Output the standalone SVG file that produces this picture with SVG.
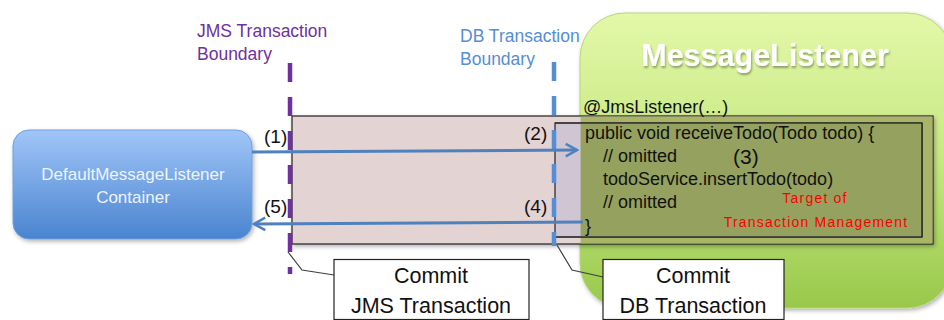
<svg xmlns="http://www.w3.org/2000/svg" width="944" height="320" viewBox="0 0 944 320">
<defs>
<style>
text{font-family:"Liberation Sans",Arial,sans-serif;}
.lbl{font-size:17.5px;}
.code{font-size:18px;fill:#111;}
.num{font-size:19px;fill:#111;}
.red{font-size:14px;fill:#ff0000;letter-spacing:1.2px;}
.cmt{font-size:21.5px;fill:#111;text-anchor:middle;}
.arrow{stroke:#4f81bd;stroke-width:3;fill:none;}
.lead{stroke:#404040;stroke-width:1.2;fill:none;}
.box{fill:#fff;stroke:#222;stroke-width:1.2;}
</style>
<linearGradient id="gGreen" x1="0" y1="0" x2="0" y2="1">
<stop offset="0" stop-color="#e3f8a8"/>
<stop offset="0.5" stop-color="#c6e882"/>
<stop offset="1" stop-color="#98c84a"/>
</linearGradient>
<linearGradient id="gBlue" x1="0" y1="0" x2="0" y2="1">
<stop offset="0" stop-color="#a0c6f8"/>
<stop offset="1" stop-color="#4a84d0"/>
</linearGradient>
<filter id="sh" x="-10%" y="-10%" width="130%" height="130%">
<feDropShadow dx="1.5" dy="2" stdDeviation="2" flood-color="#000" flood-opacity="0.3"/>
</filter>
<filter id="tsh" x="-10%" y="-20%" width="120%" height="150%">
<feDropShadow dx="1" dy="2" stdDeviation="1.2" flood-color="#000" flood-opacity="0.35"/>
</filter>
<marker id="ah" viewBox="0 0 12 12" refX="10" refY="6" markerWidth="5" markerHeight="5" markerUnits="strokeWidth" orient="auto">
<path d="M1,1 L10,6 L1,11" fill="none" stroke="#4f81bd" stroke-width="2"/>
</marker>
</defs>
<rect width="944" height="320" fill="#fff"/>

<g id="message-listener">
<rect x="580" y="13" width="372" height="295" rx="45" fill="url(#gGreen)" stroke="#b8d47e" stroke-width="1" filter="url(#sh)"/>
<text x="765" y="66" text-anchor="middle" font-size="30.5" font-weight="bold" fill="#fff" filter="url(#tsh)">MessageListener</text>
</g>

<g id="jms-transaction-scope">
<rect x="292" y="116" width="641" height="128" fill="#e4d3d3" stroke="#222" stroke-width="1.2" filter="url(#sh)"/>
<rect x="580.6" y="116.6" width="351.8" height="126.8" fill="#a8b566"/>
</g>

<g id="db-transaction-scope">
<rect x="555" y="123" width="367" height="114" fill="#cfc5d3" stroke="#222" stroke-width="1.2"/>
<rect x="580.6" y="123.6" width="340.8" height="112.8" fill="#95a15e"/>
<line x1="555" y1="123" x2="922" y2="123" stroke="#222" stroke-width="1.2"/>
<line x1="922" y1="123" x2="922" y2="237" stroke="#222" stroke-width="1.2"/>
<line x1="555" y1="237" x2="922" y2="237" stroke="#222" stroke-width="1.2"/>
</g>

<g id="code">
<text class="code" x="583" y="113">@JmsListener(…)</text>
<text class="code" x="585" y="139">public void receiveTodo(Todo todo) {</text>
<text class="code" x="603" y="162">// omitted</text>
<text x="733" y="164" font-size="21" fill="#111">(3)</text>
<text class="code" x="603" y="185">todoService.insertTodo(todo)</text>
<text class="code" x="603" y="208">// omitted</text>
<text class="code" x="585" y="232">}</text>
<text class="red" x="815" y="203" text-anchor="middle">Target of</text>
<text class="red" x="816" y="227" text-anchor="middle">Transaction Management</text>
</g>

<g id="container">
<rect x="13" y="130" width="239" height="109" rx="16" fill="url(#gBlue)" stroke="#6f9fdc" stroke-width="1" filter="url(#sh)"/>
<text x="133" y="180" text-anchor="middle" font-size="17" fill="#eef4ff">DefaultMessageListener</text>
<text x="133" y="203" text-anchor="middle" font-size="17" fill="#eef4ff">Container</text>
</g>

<g id="boundaries">
<text class="lbl" x="197" y="37" fill="#7030a0">JMS Transaction</text>
<text class="lbl" x="197" y="60" fill="#7030a0">Boundary</text>
<line x1="290" y1="63" x2="290" y2="274" stroke="#7030a0" stroke-width="4.5" stroke-dasharray="19 15"/>
<text class="lbl" x="460" y="42" fill="#558ed5">DB Transaction</text>
<text class="lbl" x="460" y="65" fill="#558ed5">Boundary</text>
<line x1="554" y1="62" x2="554" y2="246" stroke="#558ed5" stroke-width="4.5" stroke-dasharray="19 15"/>
</g>

<g id="connectors">
<line class="arrow" x1="252" y1="152" x2="577" y2="150" marker-end="url(#ah)"/>
<line class="arrow" x1="583" y1="222" x2="254" y2="224" marker-end="url(#ah)"/>
<text class="num" x="264" y="143">(1)</text>
<text class="num" x="264" y="213">(5)</text>
<text class="num" x="524" y="140">(2)</text>
<text class="num" x="524" y="213">(4)</text>
<polyline class="lead" points="288,252 302,270 334,275"/>
<polyline class="lead" points="557,245 572,270 603,277"/>
</g>

<g id="commit-jms">
<rect class="box" x="334" y="259.5" width="195" height="60"/>
<text class="cmt" x="431" y="283">Commit</text>
<text class="cmt" x="431" y="313">JMS Transaction</text>
</g>

<g id="commit-db">
<rect class="box" x="603" y="259.5" width="181" height="60"/>
<text class="cmt" x="693" y="283">Commit</text>
<text class="cmt" x="693" y="313">DB Transaction</text>
</g>
</svg>
